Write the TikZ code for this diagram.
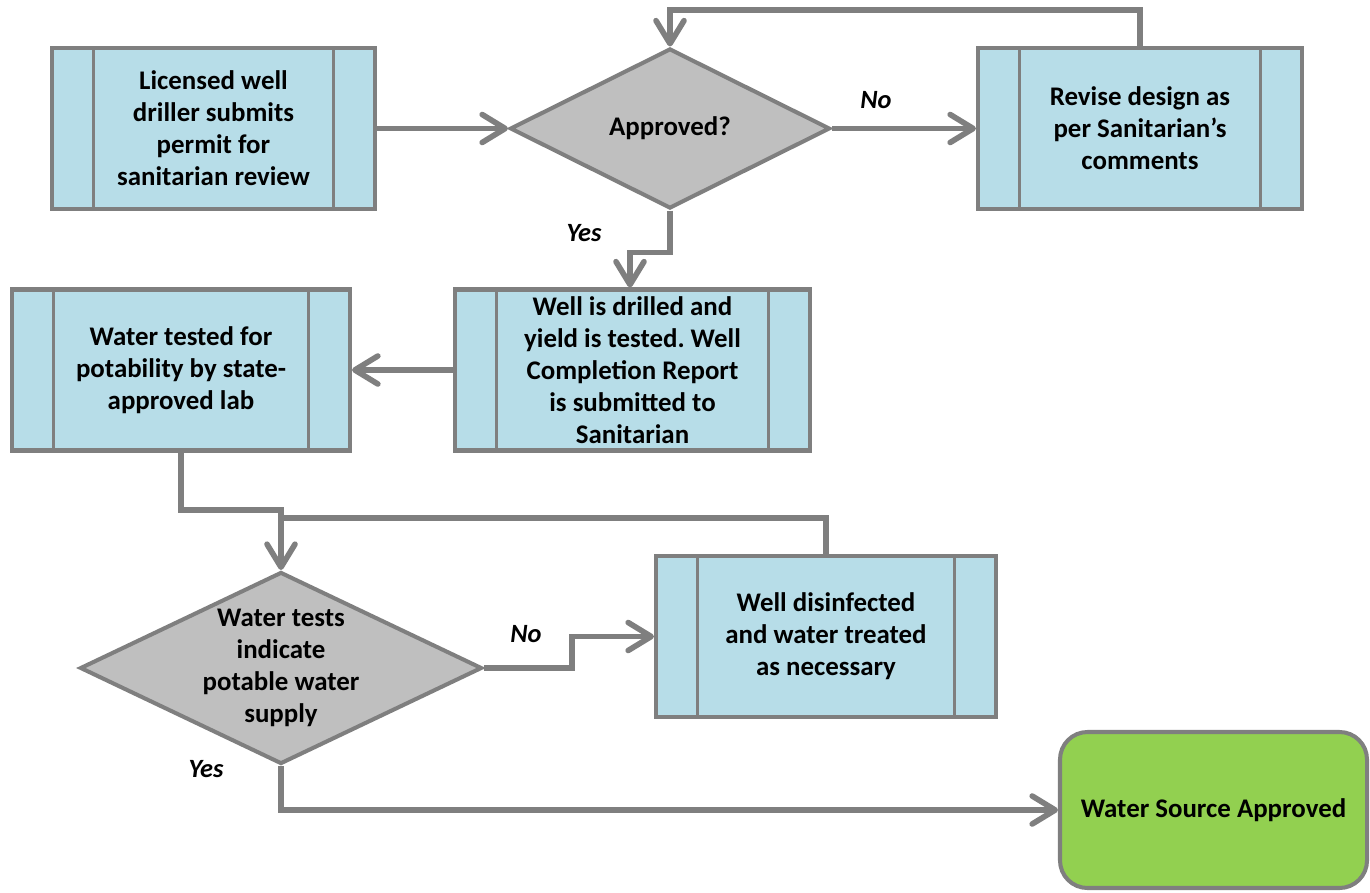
\documentclass[tikz,border=0pt]{standalone}
\usepackage{fontspec}
\setmainfont{Carlito}
\usetikzlibrary{shapes.geometric,arrows.meta}
\definecolor{boxblue}{HTML}{B7DDE8}
\definecolor{edgegray}{HTML}{7F7F7F}
\definecolor{decgray}{HTML}{BFBFBF}
\definecolor{okgreen}{HTML}{92D050}
\frenchspacing
\begin{document}
\begin{tikzpicture}[>={Straight Barb[length=4.6mm,width=5.6mm,round]},
    every node/.style={font=\fontsize{15.3}{18.2}\selectfont\bfseries,align=center},
    proc/.style={draw=edgegray,fill=boxblue,line width=2.3pt,inner xsep=2pt,inner ysep=0pt,
        minimum height=3.22cm,
        path picture={\draw[edgegray,line width=1.9pt]
            ([xshift=8.3mm]path picture bounding box.south west) -- ([xshift=8.3mm]path picture bounding box.north west)
            ([xshift=-8.3mm]path picture bounding box.south east) -- ([xshift=-8.3mm]path picture bounding box.north east);}},
    dec/.style={diamond,shape aspect=2,draw=edgegray,fill=decgray,line width=2.3pt,inner sep=-3mm},
    term/.style={draw=edgegray,fill=okgreen,line width=2.3pt,rounded corners=5.5mm},
    lbl/.style={font=\fontsize{15}{18}\selectfont\bfseries\itshape},
    conn/.style={draw=edgegray,line width=3.2pt}]
    \useasboundingbox (0,0) rectangle (27.4,-17.84);
    % first row
    \node[proc,minimum width=6.46cm] (permit) at (4.27,-2.57) {Licensed well\\driller submits\\permit for\\sanitarian review};
    \node[dec,minimum width=6.4cm,minimum height=3.2cm] (appr) at (13.4,-2.57) {Approved?};
    \node[proc,minimum width=6.48cm] (revise) at (22.8,-2.57) {Revise design as\\per Sanitarian’s\\comments};
    % second row
    \node[proc,minimum width=7.1cm] (drill) at (12.65,-7.4) {Well is drilled and\\yield is tested. Well\\Completion Report\\is submitted to\\Sanitarian};
    \node[proc,minimum width=6.76cm] (lab) at (3.62,-7.4) {Water tested for\\potability by state-\\approved lab};
    % third row
    \node[dec,minimum width=8.04cm,minimum height=3.84cm] (potable) at (5.62,-13.36) {Water tests\\indicate\\potable water\\supply};
    \node[proc,minimum width=6.8cm] (disinf) at (16.52,-12.73) {Well disinfected\\and water treated\\as necessary};
    \node[term,minimum width=6.14cm,minimum height=3.12cm] (done) at (24.27,-16.2) {Water Source Approved};
    % yes / no
    \foreach \p/\t [count=\i] in {{17.52,-2.0}/No,{11.68,-4.66}/Yes,{10.52,-12.68}/No,{4.12,-15.38}/Yes}
        {\node[lbl] (ans\i) at (\p) {\t};}
    % connectors
    \draw[conn,->] (permit.east) -- (appr.west);
    \draw[conn,->] (appr.east) -- (revise.west);
    \draw[conn,->] (revise.north) |- (appr.north |- 0,-0.2) -- (appr.north);
    \draw[conn,->] (appr.south) -- ++(0,-0.84) -| ([xshift=-0.05cm]drill.north);
    \draw[conn,->] (drill.west) -- (lab.east);
    \draw[conn,->] (lab.south) |- (potable.north |- 0,-10.2) -- (potable.north);
    \draw[conn] (disinf.north) |- (potable.north |- 0,-10.36);
    \draw[conn,->] (potable.east) -- ++(1.76,0) |- (disinf.west);
    \draw[conn,->] (potable.south) |- (done.west);
\end{tikzpicture}
\end{document}
